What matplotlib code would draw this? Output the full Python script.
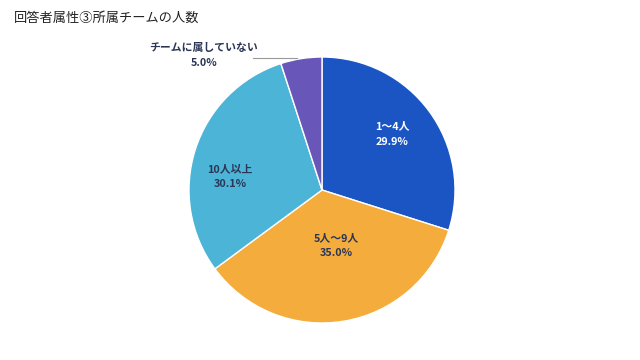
import matplotlib
matplotlib.use('Agg')
import numpy as np
import matplotlib.pyplot as plt

plt.rcParams['font.family'] = ['Noto Sans CJK JP', 'DejaVu Sans']

title = '回答者属性③所属チームの人数'
categories = ['1〜4人', '5人〜9人', '10人以上', 'チームに属していない']
shares = [29.9, 35.0, 30.1, 5.0]
colors = ['#1b55c4', '#f4ad3c', '#4cb4d6', '#6857b9']
text_colors = ['white', '#2b3656', '#2b3656', '#2b3656']

# label placement in pie-radius units, relative to the centre
label_pos = [(0.53, 0.42), (0.11, -0.42), (-0.69, 0.10), (-0.89, 1.01)]

W, H = 640, 360
cx, cy, r = 322, 170, 133

fig = plt.figure(figsize=(W / 100, H / 100), dpi=100)
ax = fig.add_axes([0, 0, 1, 1])

wedges, _ = ax.pie(shares, colors=colors, startangle=90, counterclock=False,
                   center=(cx, cy), radius=r,
                   wedgeprops=dict(edgecolor='white', linewidth=1))
ax.set_xlim(0, W)
ax.set_ylim(0, H)
ax.set_aspect('equal')
ax.axis('off')

for name, val, (px, py), tc in zip(categories, shares, label_pos, text_colors):
    x, y = cx + px * r, cy + py * r
    ax.text(x, y + 7.5, name, ha='center', va='center', fontsize=7.8,
            fontweight='bold', color=tc)
    ax.text(x, y - 7.5, f'{val:.1f}%', ha='center', va='center', fontsize=7.8,
            fontweight='bold', color=tc)

# leader line for the small slice
ax.plot([cx - 69, cx - 25], [cy + 132, cy + 132], color='#999999', lw=0.8)

fig.text(14 / W, 1 - 18 / H, title, ha='left', va='center', fontsize=9.5,
         color='#222222')

fig.savefig('out.png', dpi=100)
